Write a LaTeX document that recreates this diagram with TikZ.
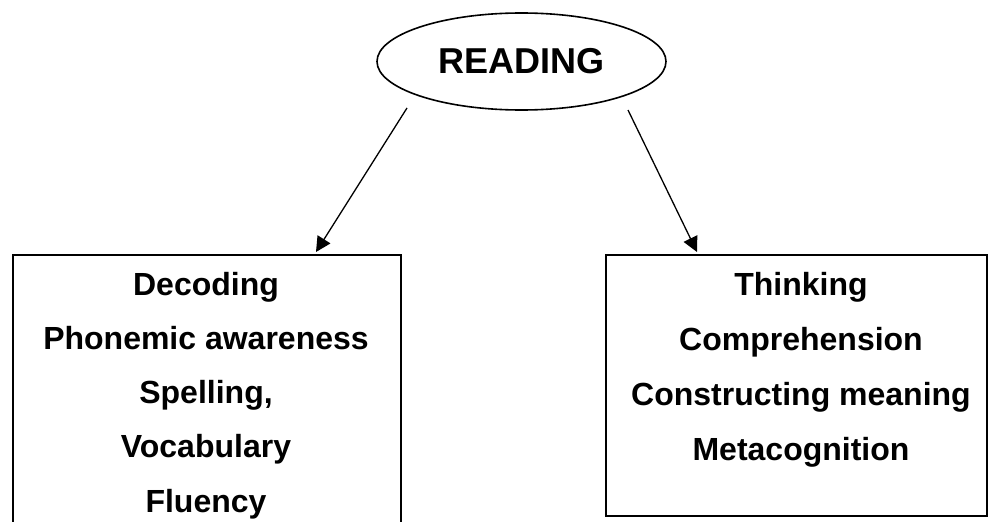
\documentclass[tikz,border=0pt]{standalone}
\usepackage{fontspec}
\setmainfont{Liberation Sans}
\usetikzlibrary{arrows.meta,shapes.geometric}
\begin{document}
\begin{tikzpicture}[x=1pt,y=-1pt,
  boxstyle/.style={draw, rectangle, line width=1.8pt, inner sep=0pt, anchor=north west},
  itemtext/.style={font=\fontsize{32}{38}\selectfont\bfseries, anchor=base, inner sep=0pt},
  link/.style={-{Triangle[length=15pt,width=15pt]}, line width=1.3pt}]
\useasboundingbox (0,0) rectangle (989,522);
\clip (0,0) rectangle (989,522);
\node[draw, ellipse, line width=1.6pt, minimum width=289pt, minimum height=97pt, inner sep=0pt,
      font=\fontsize{36}{42}\selectfont\bfseries] (reading) at (521.5,61.5) {READING};
\node[boxstyle, minimum width=388pt, minimum height=330pt] (lbox) at (12,254) {};
\node[boxstyle, minimum width=381pt, minimum height=261pt] (rbox) at (605,254) {};
\node[itemtext] (l1) at (206,295) {Decoding};
\node[itemtext] (l2) at (206,349.3) {Phonemic awareness};
\node[itemtext] (l3) at (206,403.6) {Spelling,};
\node[itemtext] (l4) at (206,457.9) {Vocabulary};
\node[itemtext] (l5) at (206,512.2) {Fluency};
\node[itemtext] (r1) at (801,295) {Thinking};
\node[itemtext] (r2) at (801,350) {Comprehension};
\node[itemtext] (r3) at (801,405) {Constructing meaning};
\node[itemtext] (r4) at (801,460) {Metacognition};
\coordinate (la) at ([xshift=-114.5pt,yshift=-46.5pt]reading.center);
\coordinate (lt) at ([xshift=304pt,yshift=2pt]lbox.north west);
\coordinate (ra) at ([xshift=106.5pt,yshift=-48.5pt]reading.center);
\coordinate (rt) at ([xshift=92pt,yshift=2pt]rbox.north west);
\draw[link] (la) -- (lt);
\draw[link] (ra) -- (rt);
\end{tikzpicture}
\end{document}
